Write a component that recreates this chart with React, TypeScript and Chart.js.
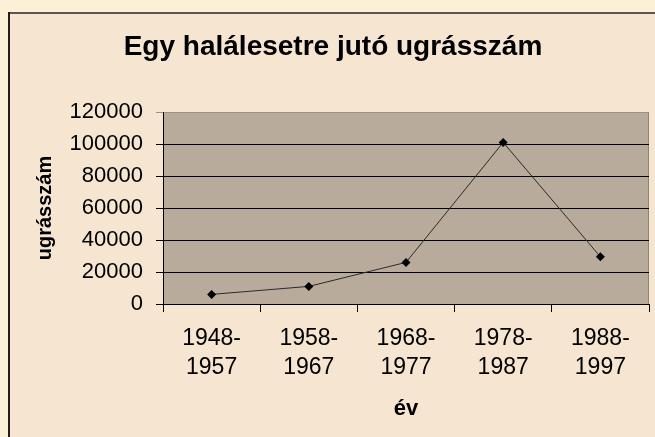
import React, { useEffect, useRef } from "react";
import { Chart, registerables } from "chart.js";

Chart.register(...registerables);

const categories: string[][] = [
  ["1948-", "1957"],
  ["1958-", "1967"],
  ["1968-", "1977"],
  ["1978-", "1987"],
  ["1988-", "1997"],
];
const jumpsPerDeath: number[] = [6000, 11000, 26000, 101000, 29500];
const yTicks: number[] = [0, 20000, 40000, 60000, 80000, 100000, 120000];

const titleText = "Egy halálesetre jutó ugrásszám";
const yTitle = "ugrásszám";
const xTitle = "év";

const FONT = "Arial, 'Liberation Sans', sans-serif";

const backgroundPlugin = {
  id: "bgPlugin",
  beforeDraw(chart: any) {
    const { ctx, width, height, chartArea } = chart;
    ctx.save();
    ctx.fillStyle = "#fcf0d7";
    ctx.fillRect(0, 0, width, height);
    ctx.fillStyle = "#f6e5d1";
    ctx.fillRect(8, 12, width - 8, height - 12);
    ctx.fillStyle = "#5a5650";
    ctx.fillRect(8, 12, width - 8, 2);
    ctx.fillStyle = "#1e1e1e";
    ctx.fillRect(8, 12, 2, height - 12);
    ctx.fillStyle = "#b8ab9b";
    ctx.fillRect(
      chartArea.left,
      chartArea.top,
      chartArea.right - chartArea.left,
      chartArea.bottom - chartArea.top
    );
    ctx.strokeStyle = "#8c8378";
    ctx.lineWidth = 1;
    ctx.beginPath();
    ctx.moveTo(chartArea.right - 0.5, chartArea.top);
    ctx.lineTo(chartArea.right - 0.5, chartArea.bottom);
    ctx.stroke();
    ctx.restore();
  },
  afterDraw(chart: any) {
    const { ctx } = chart;
    ctx.save();
    ctx.fillStyle = "#000";
    ctx.font = `bold 28px ${FONT}`;
    ctx.textAlign = "center";
    ctx.textBaseline = "middle";
    ctx.fillText(titleText, 333, 47);
    ctx.restore();
  },
};

export default function App() {
  const canvasRef = useRef<HTMLCanvasElement | null>(null);

  useEffect(() => {
    document.body.style.margin = "0";
    const canvas = canvasRef.current;
    if (!canvas) return;
    const chart = new Chart(canvas, {
      type: "line",
      data: {
        labels: categories,
        datasets: [
          {
            data: jumpsPerDeath,
            borderColor: "#2a2a2a",
            borderWidth: 1,
            pointStyle: "rectRot",
            pointRadius: 4.5,
            pointBackgroundColor: "#000",
            pointBorderColor: "#000",
            pointBorderWidth: 0,
            tension: 0,
          },
        ],
      },
      options: {
        responsive: false,
        animation: false,
        layout: { padding: { left: 0, right: 6, top: 112, bottom: 0 } },
        plugins: {
          legend: { display: false },
          tooltip: { enabled: false },
          title: { display: false },
        },
        scales: {
          x: {
            type: "category",
            offset: true,
            afterFit(scale: any) {
              scale.height = 133;
            },
            grid: {
              offset: true,
              drawOnChartArea: false,
              drawTicks: true,
              tickLength: 8,
              color: "#000",
            },
            border: { display: true, color: "#000", width: 1 },
            ticks: {
              color: "#000",
              font: { family: FONT, size: 23, lineHeight: 1.26 },
              padding: 12,
              maxRotation: 0,
              autoSkip: false,
            },
            title: {
              display: true,
              text: xTitle,
              color: "#000",
              font: { family: FONT, size: 22, weight: "bold", lineHeight: 1.2 },
              padding: { top: 0, bottom: 15 },
            },
          },
          y: {
            min: 0,
            max: 120000,
            afterFit(scale: any) {
              scale.width = 163;
            },
            afterBuildTicks(scale: any) {
              scale.ticks = yTicks.map((v) => ({ value: v }));
            },
            grid: {
              drawOnChartArea: true,
              drawTicks: true,
              tickLength: 7,
              color: (ctx: any) =>
                ctx.tick && ctx.tick.value === 120000 ? "#9c9184" : "#000",
            },
            border: { display: true, color: "#000", width: 1 },
            ticks: {
              color: "#000",
              font: { family: FONT, size: 22 },
              padding: 13,
              callback: (v: any) => String(v),
            },
            title: {
              display: true,
              text: yTitle,
              color: "#000",
              font: { family: FONT, size: 20, weight: "bold", lineHeight: 1.2 },
              padding: { top: 33, bottom: 0 },
            },
          },
        },
      },
      plugins: [backgroundPlugin],
    });
    return () => chart.destroy();
  }, []);

  return (
    <div style={{ position: "absolute", left: 0, top: 0, width: 655, height: 437 }}>
      <canvas ref={canvasRef} width={655} height={437} style={{ display: "block" }} />
    </div>
  );
}
